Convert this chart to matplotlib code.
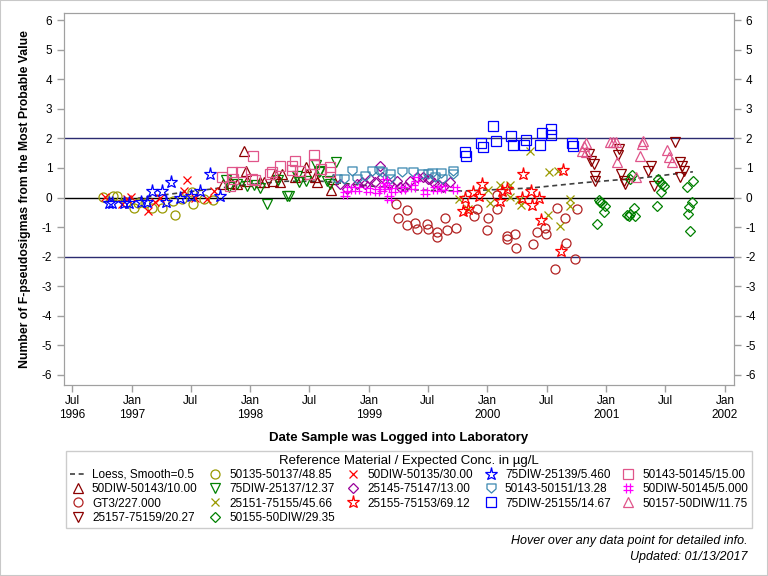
import numpy as np
import matplotlib
matplotlib.use('Agg')
import matplotlib.pyplot as plt
from matplotlib.path import Path
from matplotlib.lines import Line2D
from matplotlib.patches import Rectangle
from datetime import datetime, timedelta

plt.rcParams['font.family'] = ['Liberation Sans', 'DejaVu Sans']
plt.rcParams['axes.unicode_minus'] = False

# ---- data: decimal year / number of F-pseudosigmas ----
loess_x = [1996.76, 1997.0, 1997.33, 1997.7, 1998.0, 1998.3, 1998.6, 1999.04, 1999.43, 1999.8, 2000.36, 2000.8, 2001.29, 2001.73]
loess_y = [-0.15, -0.05, 0.12, 0.3, 0.45, 0.55, 0.55, 0.38, 0.25, 0.22, 0.32, 0.5, 0.66, 0.87]

t2_x = [1997.766, 1997.888, 1997.943, 1997.963, 1997.972, 1998.084, 1998.112, 1998.191, 1998.210, 1998.267, 1998.252, 1998.373, 1998.471, 1998.477, 1998.547, 1998.562, 1998.680, 1998.696, 1997.840]
t2_y = [0.45, 0.47, 1.57, 0.90, 0.56, 0.51, 0.51, 0.56, 0.79, 0.79, 0.51, 0.68, 1.04, 0.79, 0.68, 0.51, 0.25, 0.62, 0.48]

c3_x = [1999.227, 1999.244, 1999.320, 1999.320, 1999.390, 1999.409, 1999.488, 1999.497, 1999.573, 1999.578, 1999.643, 1999.662, 1999.735, 1999.887, 1999.910, 1999.994, 2000.007, 2000.083, 2000.083, 2000.162, 2000.162, 2000.232, 2000.238, 2000.386, 2000.415, 2000.485, 2000.491, 2000.584, 2000.569, 2000.654, 2000.659, 2000.732, 2000.752]
c3_y = [-0.23, -0.68, -0.43, -0.94, -0.85, -1.05, -0.91, -1.07, -1.16, -1.32, -0.68, -1.10, -1.02, -0.64, -0.40, -1.11, -0.68, -0.40, 0.08, -1.30, -1.39, -1.24, -1.70, -1.56, -1.15, -1.02, -1.24, -0.37, -2.43, -0.68, -1.53, -2.07, -0.40]

v4_x = [2000.850, 2000.870, 2000.892, 2000.906, 2000.906, 2001.098, 2001.103, 2001.123, 2001.145, 2001.159, 2001.355, 2001.376, 2001.403, 2001.580, 2001.622, 2001.637, 2001.651, 2001.617]
v4_y = [1.47, 1.24, 1.13, 0.73, 0.56, 1.43, 1.64, 0.79, 0.56, 0.45, 0.90, 1.07, 0.39, 1.88, 1.21, 1.07, 0.90, 0.68]

o5_x = [1996.761, 1996.845, 1996.877, 1996.947, 1997.014, 1997.048, 1997.107, 1997.171, 1997.258, 1997.343, 1997.368, 1997.427, 1997.508, 1997.517, 1997.612, 1997.685]
o5_y = [0.03, 0.04, 0.04, -0.16, -0.34, -0.17, -0.19, -0.34, -0.35, -0.13, -0.60, -0.06, 0.17, -0.23, -0.06, -0.08]

g6_x = [1997.795, 1997.823, 1997.888, 1997.972, 1998.027, 1998.078, 1998.140, 1998.230, 1998.309, 1998.322, 1998.393, 1998.407, 1998.471, 1998.556, 1998.575, 1998.646, 1998.674, 1998.724, 1998.584]
g6_y = [0.60, 0.37, 0.45, 0.39, 0.42, 0.31, -0.23, 0.60, 0.05, 0.05, 0.73, 0.51, 0.56, 1.09, 0.85, 0.56, 0.45, 1.21, 0.90]

x7_x = [1999.756, 1999.839, 2000.007, 2000.022, 2000.106, 2000.190, 2000.190, 2000.262, 2000.283, 2000.354, 2000.513, 2000.521, 2000.597, 2000.611, 2000.690, 2000.696]
x7_y = [-0.06, -0.40, 0.26, -0.19, 0.42, 0.42, 0.01, -0.09, -0.26, 1.57, -0.60, 0.86, 0.89, -0.96, -0.06, -0.28]

d8_x = [2000.934, 2000.948, 2000.963, 2000.991, 2000.982, 2000.921, 2001.173, 2001.187, 2001.201, 2001.229, 2001.243, 2001.201, 2001.216, 2001.439, 2001.454, 2001.468, 2001.482, 2001.460, 2001.426, 2001.679, 2001.735, 2001.721, 2001.701, 2001.692, 2001.706]
d8_y = [-0.08, -0.15, -0.19, -0.28, -0.49, -0.88, -0.60, -0.64, -0.57, -0.34, -0.62, 0.62, 0.76, 0.62, 0.51, 0.45, 0.39, 0.19, -0.28, 0.34, 0.56, -0.15, -0.31, -0.57, -1.13]

x9_x = [1996.770, 1996.921, 1996.961, 1996.989, 1997.140, 1997.199, 1997.241, 1997.438, 1997.461, 1997.536, 1997.635, 1997.690]
x9_y = [0.03, -0.23, -0.06, 0.01, -0.45, -0.16, -0.02, 0.22, 0.59, 0.0, -0.06, 0.22]

d10_x = [1998.758, 1998.814, 1998.899, 1998.941, 1998.969, 1999.011, 1999.053, 1999.095, 1999.109, 1999.165, 1999.236, 1999.263, 1999.306, 1999.348, 1999.404, 1999.460, 1999.502, 1999.516, 1999.550, 1999.595, 1999.628, 1999.685]
d10_y = [0.45, 0.28, 0.45, 0.51, 0.45, 0.62, 0.51, 1.07, 0.68, 0.45, 0.56, 0.34, 0.34, 0.56, 0.68, 0.68, 0.62, 0.62, 0.48, 0.42, 0.34, 0.53]

r11_x = [1999.797, 1999.811, 1999.839, 1999.876, 1999.932, 1999.952, 2000.106, 2000.120, 2000.162, 2000.297, 2000.289, 2000.367, 2000.373, 2000.434, 2000.447, 2000.639, 2000.620]
r11_y = [-0.45, 0.0, -0.40, 0.17, 0.05, 0.47, -0.12, 0.22, 0.28, 0.81, -0.03, 0.22, -0.24, -0.01, -0.75, 0.93, -1.82]

b12_x = [1996.806, 1996.834, 1996.932, 1996.974, 1997.073, 1997.129, 1997.171, 1997.256, 1997.292, 1997.326, 1997.410, 1997.500, 1997.578, 1997.657, 1997.747]
b12_y = [-0.17, -0.17, -0.17, -0.17, -0.16, -0.15, 0.22, 0.22, -0.15, 0.51, -0.03, 0.05, 0.22, 0.81, 0.05]

s13_x = [1998.730, 1998.786, 1998.857, 1998.899, 1998.969, 1999.025, 1999.081, 1999.109, 1999.179, 1999.179, 1999.278, 1999.375, 1999.446, 1999.502, 1999.530, 1999.558, 1999.606, 1999.620, 1999.712, 1999.707]
s13_y = [0.62, 0.62, 0.90, 0.62, 0.73, 0.90, 0.90, 0.85, 0.79, 0.62, 0.85, 0.85, 0.79, 0.81, 0.82, 0.68, 0.82, 0.62, 0.90, 0.81]

q14_x = [1999.811, 1999.819, 1999.948, 1999.965, 2000.050, 2000.070, 2000.201, 2000.218, 2000.311, 2000.327, 2000.443, 2000.462, 2000.536, 2000.536, 2000.715, 2000.723]
q14_y = [1.53, 1.41, 1.83, 1.70, 2.41, 1.90, 2.07, 1.76, 1.77, 1.94, 1.77, 2.17, 2.32, 2.11, 1.83, 1.73]

h15_x = [1998.800, 1998.828, 1998.899, 1998.996, 1999.067, 1999.109, 1999.137, 1999.151, 1999.165, 1999.207, 1999.291, 1999.375, 1999.398, 1999.474, 1999.558, 1999.628, 1999.727]
h15_y = [0.11, 0.28, 0.28, 0.26, 0.22, 0.28, 0.55, 0.34, -0.02, 0.25, 0.28, 0.34, 0.64, 0.17, 0.28, 0.31, 0.28]

p16_x = [1997.761, 1997.848, 1997.856, 1997.924, 1998.019, 1998.014, 1998.042, 1998.168, 1998.182, 1998.252, 1998.351, 1998.373, 1998.351, 1998.421, 1998.505, 1998.533, 1998.533, 1998.598, 1998.674, 1998.674, 1997.831]
p16_y = [0.68, 0.86, 0.62, 0.85, 1.40, 0.62, 0.59, 0.79, 0.85, 1.08, 1.07, 1.22, 0.93, 0.88, 0.79, 1.43, 1.15, 0.96, 1.02, 0.85, 0.39]

p17_x = [2000.794, 2000.808, 2000.830, 2000.830, 2001.033, 2001.055, 2001.083, 2001.089, 2001.285, 2001.300, 2001.313, 2001.252, 2001.510, 2001.532, 2001.552]
p17_y = [1.58, 1.75, 1.86, 1.53, 1.88, 1.88, 1.88, 1.21, 1.41, 1.81, 1.92, 0.68, 1.61, 1.36, 1.21]

tick_dates = [(1996, 7), (1997, 1), (1997, 7), (1998, 1), (1998, 7), (1999, 1), (1999, 7),
              (2000, 1), (2000, 7), (2001, 1), (2001, 7), (2002, 1)]
tick_labels = ['Jul\n1996', 'Jan\n1997', 'Jul', 'Jan\n1998', 'Jul', 'Jan\n1999', 'Jul',
               'Jan\n2000', 'Jul', 'Jan\n2001', 'Jul', 'Jan\n2002']
y_ticks = list(range(-6, 7))


def to_dates(dec):
    out = []
    for d in dec:
        y = int(d)
        start = datetime(y, 1, 1)
        ndays = (datetime(y + 1, 1, 1) - start).days
        out.append(start + timedelta(days=(d - y) * ndays))
    return out


# custom markers
shield = Path([(-1, 1), (1, 1), (1, -0.1), (0, -1), (-1, -0.1), (-1, 1)],
              [Path.MOVETO, Path.LINETO, Path.LINETO, Path.LINETO, Path.LINETO, Path.CLOSEPOLY])
hash_m = Path([(-0.4, -1), (-0.4, 1), (0.4, -1), (0.4, 1), (-1, -0.4), (1, -0.4), (-1, 0.4), (1, 0.4)],
              [Path.MOVETO, Path.LINETO] * 4)

dkred = '#8b0000'
brick = '#b22222'
olive = '#999900'
green = '#008000'
pink = '#e0558a'

series = [
    ('50DIW-50143/10.00', t2_x, t2_y, '^', dkred, 6.5),
    ('GT3/227.000', c3_x, c3_y, 'o', brick, 6.5),
    ('25157-75159/20.27', v4_x, v4_y, 'v', dkred, 6.5),
    ('50135-50137/48.85', o5_x, o5_y, 'o', olive, 6.5),
    ('75DIW-25137/12.37', g6_x, g6_y, 'v', green, 6.5),
    ('25151-75155/45.66', x7_x, x7_y, 'x', olive, 6),
    ('50155-50DIW/29.35', d8_x, d8_y, 'D', green, 5.5),
    ('50DIW-50135/30.00', x9_x, x9_y, 'x', '#ff0000', 6),
    ('25145-75147/13.00', d10_x, d10_y, 'D', '#990099', 5.5),
    ('25155-75153/69.12', r11_x, r11_y, '*', '#ff0000', 9.5),
    ('75DIW-25139/5.460', b12_x, b12_y, '*', '#0000ff', 9.5),
    ('50143-50151/13.28', s13_x, s13_y, shield, '#3a87b0', 6.5),
    ('75DIW-25155/14.67', q14_x, q14_y, 's', '#0000ff', 6.5),
    ('50DIW-50145/5.000', h15_x, h15_y, hash_m, '#ff00ff', 7),
    ('50143-50145/15.00', p16_x, p16_y, 's', pink, 6.5),
    ('50157-50DIW/11.75', p17_x, p17_y, '^', pink, 6.5),
]

fig = plt.figure(figsize=(7.68, 5.76), dpi=100)
ax = fig.add_axes([64 / 768, 1 - 385 / 576, 670 / 768, 372 / 576])

ax.axhline(0, color='black', lw=1, zorder=1)
ax.axhline(2, color='#2b2b70', lw=1, zorder=1)
ax.axhline(-2, color='#2b2b70', lw=1, zorder=1)

handles = {}
for lab, xs, ys, mk, col, ms in series:
    h, = ax.plot(to_dates(xs), ys, linestyle='none', marker=mk, mfc='none', mec=col,
                 ms=ms, mew=0.9, label=lab, zorder=3)
    handles[lab] = h

lo, = ax.plot(to_dates(loess_x), loess_y, color='#404040', lw=1.2, ls=(0, (3, 2.2)),
              label='Loess, Smooth=0.5', zorder=2)

ax.set_xlim(datetime(1996, 6, 6), datetime(2002, 1, 29))
ax.set_ylim(-6.34, 6.24)
ax.set_xticks([datetime(y, m, 1) for y, m in tick_dates])
ax.set_xticklabels(tick_labels)
ax.set_yticks(y_ticks)
ax.set_yticklabels([str(v) for v in y_ticks])

ax2 = ax.twinx()
ax2.set_ylim(ax.get_ylim())
ax2.set_yticks(y_ticks)
ax2.set_yticklabels([str(v) for v in y_ticks])

for a in (ax, ax2):
    for s in a.spines.values():
        s.set_color('#a0a0a0')
    a.tick_params(colors='#a0a0a0', labelcolor='black', labelsize=8.5, length=5, width=1)
ax.tick_params(axis='x', pad=2.5)

ax.set_xlabel('Date Sample was Logged into Laboratory', fontsize=9.5, fontweight='bold', labelpad=8)
ax.set_ylabel('Number of F-pseudosigmas from the Most Probable Value', fontsize=8.8,
              fontweight='bold', labelpad=8)

blank = Line2D([], [], linestyle='none')
order = ['Loess, Smooth=0.5', '50DIW-50143/10.00', 'GT3/227.000', '25157-75159/20.27',
         '50135-50137/48.85', '75DIW-25137/12.37', '25151-75155/45.66', '50155-50DIW/29.35',
         '50DIW-50135/30.00', '25145-75147/13.00', '25155-75153/69.12', '',
         '75DIW-25139/5.460', '50143-50151/13.28', '75DIW-25155/14.67',
         '50143-50145/15.00', '50DIW-50145/5.000', '50157-50DIW/11.75']
handles['Loess, Smooth=0.5'] = lo
handles[''] = blank
leg = fig.legend([handles[k] for k in order], order, ncol=5, loc='upper left',
                 bbox_to_anchor=(66 / 768, 1 - 451 / 576, 686 / 768, 0.0), mode='expand',
                 title='Reference Material / Expected Conc. in µg/L', fontsize=8.5,
                 title_fontsize=9.5, frameon=True, fancybox=False, edgecolor='#c0c0c0',
                 borderpad=0.3, labelspacing=0.2, handlelength=1.4, handletextpad=0.5,
                 columnspacing=0.8, borderaxespad=0)
leg.get_frame().set_linewidth(1)

fig.text(748 / 768, 1 - 541 / 576, 'Hover over any data point for detailed info.',
         ha='right', va='center', fontsize=9, style='italic')
fig.text(748 / 768, 1 - 557 / 576, 'Updated: 01/13/2017',
         ha='right', va='center', fontsize=9, style='italic')

fig.patches.append(Rectangle((0, 0), 1, 1, transform=fig.transFigure, fill=False,
                             edgecolor='#c8c8c8', lw=1.5))

fig.savefig('out.png', dpi=100)
